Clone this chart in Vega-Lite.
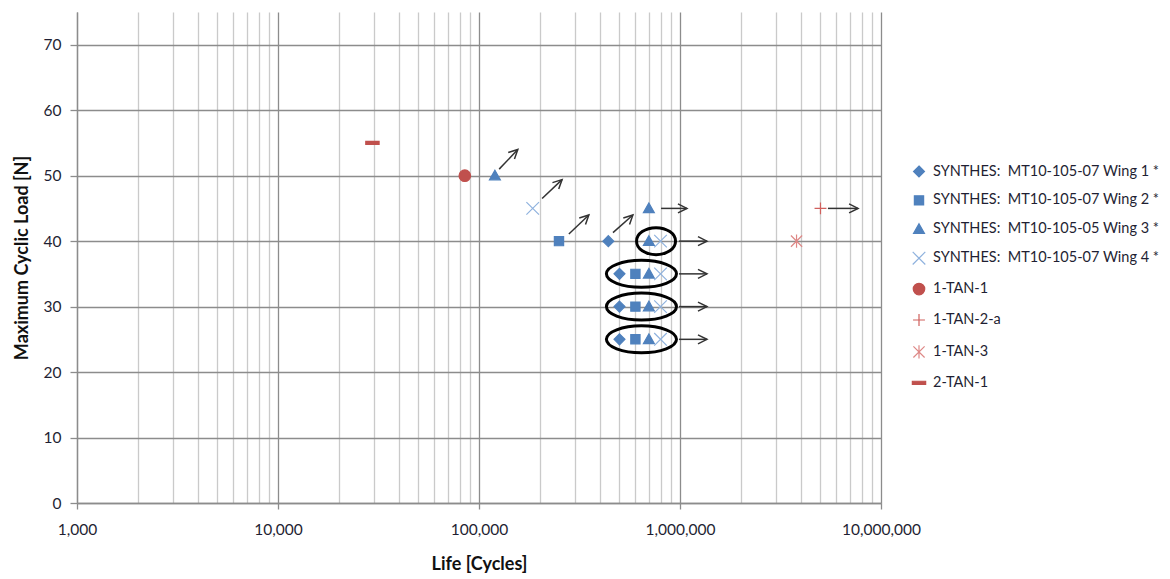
{
  "$schema": "https://vega.github.io/schema/vega-lite/v6.json",
  "width": 804,
  "height": 491,
  "autosize": {"type": "none"},
  "padding": {"left": 77, "top": 12, "right": 289, "bottom": 76},
  "background": "white",
  "config": {
    "view": {"stroke": null},
    "font": "Lato",
    "axis": {"labelFont": "Lato", "titleFont": "Lato", "labelColor": "#1f1f33", "titleColor": "#111111"},
    "legend": {"labelFont": "Lato"}
  },
  "datasets": {
    "pts": [
      {"series": "SYNTHES:  MT10-105-07 Wing 1", "life": 440000, "load": 40},
      {"series": "SYNTHES:  MT10-105-07 Wing 1", "life": 500000, "load": 35},
      {"series": "SYNTHES:  MT10-105-07 Wing 1", "life": 500000, "load": 30},
      {"series": "SYNTHES:  MT10-105-07 Wing 1", "life": 500000, "load": 25},
      {"series": "SYNTHES:  MT10-105-07 Wing 2", "life": 250000, "load": 40},
      {"series": "SYNTHES:  MT10-105-07 Wing 2", "life": 600000, "load": 35},
      {"series": "SYNTHES:  MT10-105-07 Wing 2", "life": 600000, "load": 30},
      {"series": "SYNTHES:  MT10-105-07 Wing 2", "life": 600000, "load": 25},
      {"series": "SYNTHES:  MT10-105-05 Wing 3", "life": 120000, "load": 50},
      {"series": "SYNTHES:  MT10-105-05 Wing 3", "life": 700000, "load": 45},
      {"series": "SYNTHES:  MT10-105-05 Wing 3", "life": 700000, "load": 40},
      {"series": "SYNTHES:  MT10-105-05 Wing 3", "life": 700000, "load": 35},
      {"series": "SYNTHES:  MT10-105-05 Wing 3", "life": 700000, "load": 30},
      {"series": "SYNTHES:  MT10-105-05 Wing 3", "life": 700000, "load": 25},
      {"series": "SYNTHES:  MT10-105-07 Wing 4", "life": 185000, "load": 45},
      {"series": "SYNTHES:  MT10-105-07 Wing 4", "life": 800000, "load": 40},
      {"series": "SYNTHES:  MT10-105-07 Wing 4", "life": 800000, "load": 35},
      {"series": "SYNTHES:  MT10-105-07 Wing 4", "life": 800000, "load": 30},
      {"series": "SYNTHES:  MT10-105-07 Wing 4", "life": 800000, "load": 25},
      {"series": "1-TAN-1", "life": 85000, "load": 50},
      {"series": "1-TAN-2-a", "life": 5000000, "load": 45},
      {"series": "1-TAN-3", "life": 3800000, "load": 40},
      {"series": "2-TAN-1", "life": 29500, "load": 55}
    ],
    "arrows": [
      {"dir": "diag", "life": 126000, "load": 51.0, "life2": 156000, "load2": 54.0},
      {"dir": "diag", "life": 206000, "load": 46.5, "life2": 259000, "load2": 49.4},
      {"dir": "diag", "life": 280000, "load": 41.1, "life2": 352000, "load2": 44.0},
      {"dir": "diag", "life": 464000, "load": 41.3, "life2": 583000, "load2": 44.0},
      {"dir": "right", "life": 805000, "load": 45, "life2": 1083000, "load2": 45},
      {"dir": "right", "life": 988000, "load": 40, "life2": 1362000, "load2": 40},
      {"dir": "right", "life": 988000, "load": 35, "life2": 1362000, "load2": 35},
      {"dir": "right", "life": 988000, "load": 30, "life2": 1362000, "load2": 30},
      {"dir": "right", "life": 988000, "load": 25, "life2": 1362000, "load2": 25},
      {"dir": "right", "life": 5445000, "load": 45, "life2": 7690000, "load2": 45}
    ],
    "ovals": [
      {"kind": "narrow", "life": 760000, "load": 40},
      {"kind": "wide", "life": 643000, "load": 35},
      {"kind": "wide", "life": 643000, "load": 30},
      {"kind": "wide", "life": 643000, "load": 25}
    ]
  },
  "layer": [
    {
      "data": {"name": "pts"},
      "mark": {"type": "point", "filled": true, "size": 196, "strokeWidth": 1.2, "opacity": 1},
      "encoding": {
        "x": {
          "field": "life", "type": "quantitative", "title": "Life [Cycles]",
          "scale": {"type": "log", "domain": [1000, 10000000], "nice": false},
          "axis": {
            "values": [1000,2000,3000,4000,5000,6000,7000,8000,9000,10000,20000,30000,40000,50000,60000,70000,80000,90000,100000,200000,300000,400000,500000,600000,700000,800000,900000,1000000,2000000,3000000,4000000,5000000,6000000,7000000,8000000,9000000,10000000],
            "labelExpr": "indexof([1000,10000,100000,1000000,10000000], datum.value) >= 0 ? format(datum.value, ',') : ''",
            "grid": true,
            "gridColor": {"condition": {"test": "indexof([1000,10000,100000,1000000,10000000], datum.value) >= 0", "value": "#8c8c8c"}, "value": "#cacaca"},
            "gridWidth": 1.3,
            "tickColor": {"condition": {"test": "indexof([1000,10000,100000,1000000,10000000], datum.value) >= 0", "value": "#8c8c8c"}, "value": "transparent"},
            "tickSize": 6,
            "tickWidth": 1.3,
            "domainColor": "#8c8c8c",
            "domainWidth": 1.3,
            "labelFontSize": 15.5,
            "labelPadding": 13,
            "labelFlush": false,
            "labelOverlap": false,
            "titleFontSize": 18,
            "titleFontWeight": "bold",
            "titlePadding": 18
          }
        },
        "y": {
          "field": "load", "type": "quantitative", "title": "Maximum Cyclic Load [N]",
          "scale": {"domain": [0, 75], "nice": false},
          "axis": {
            "values": [0,10,20,30,40,50,60,70],
            "grid": true,
            "gridColor": "#8c8c8c",
            "gridWidth": 1.3,
            "tickColor": "#8c8c8c",
            "tickSize": 7,
            "tickWidth": 1.3,
            "domainColor": "#8c8c8c",
            "domainWidth": 1.3,
            "labelFontSize": 15.5,
            "labelPadding": 9,
            "titleFontSize": 18,
            "titleFontWeight": "bold",
            "titlePadding": 12
          }
        },
        "shape": {
          "field": "series", "type": "nominal",
          "scale": {
            "domain": ["SYNTHES:  MT10-105-07 Wing 1", "SYNTHES:  MT10-105-07 Wing 2", "SYNTHES:  MT10-105-05 Wing 3", "SYNTHES:  MT10-105-07 Wing 4", "1-TAN-1", "1-TAN-2-a", "1-TAN-3", "2-TAN-1"],
            "range": [
              "M0,-0.78 L0.78,0 L0,0.78 L-0.78,0 Z",
              "M-0.66,-0.66 L0.66,-0.66 L0.66,0.66 L-0.66,0.66 Z",
              "M0,-0.78 L0.78,0.6 L-0.78,0.6 Z",
              "M-0.9,-0.9 L0.9,0.9 M-0.9,0.9 L0.9,-0.9",
              "M-0.82,0 A0.82,0.82 0 1,0 0.82,0 A0.82,0.82 0 1,0 -0.82,0 Z",
              "M-0.85,0 L0.85,0 M0,-0.85 L0,0.85",
              "M-0.8,-0.8 L0.8,0.8 M-0.8,0.8 L0.8,-0.8 M0,-0.95 L0,0.95",
              "M-0.95,-0.22 L0.95,-0.22 L0.95,0.22 L-0.95,0.22 Z"
            ]
          },
          "legend": {
            "title": null, "orient": "none", "legendX": 834, "legendY": 151.5,
            "symbolSize": 196, "symbolStrokeWidth": 1.2, "labelFontSize": 14.5, "labelColor": "#1f1f33",
            "labelOffset": 6, "rowPadding": 12.9, "labelLimit": 300,
            "labelExpr": "indexof(datum.label, 'SYNTHES') == 0 ? replace(datum.label, ':  ', ':\u00a0 ') + ' *' : datum.label"
          }
        },
        "fill": {
          "field": "series", "type": "nominal",
          "scale": {
            "domain": ["SYNTHES:  MT10-105-07 Wing 1", "SYNTHES:  MT10-105-07 Wing 2", "SYNTHES:  MT10-105-05 Wing 3", "SYNTHES:  MT10-105-07 Wing 4", "1-TAN-1", "1-TAN-2-a", "1-TAN-3", "2-TAN-1"],
            "range": ["#4F81BD", "#4F81BD", "#4F81BD", "#8FB2DE", "#C0504D", "#D0605D", "#DE8886", "#C0504D"]
          },
          "legend": null
        },
        "stroke": {
          "field": "series", "type": "nominal",
          "scale": {
            "domain": ["SYNTHES:  MT10-105-07 Wing 1", "SYNTHES:  MT10-105-07 Wing 2", "SYNTHES:  MT10-105-05 Wing 3", "SYNTHES:  MT10-105-07 Wing 4", "1-TAN-1", "1-TAN-2-a", "1-TAN-3", "2-TAN-1"],
            "range": ["#4F81BD", "#4F81BD", "#4F81BD", "#8FB2DE", "#C0504D", "#D0605D", "#DE8886", "#C0504D"]
          },
          "legend": null
        }
      }
    },
    {
      "data": {"name": "arrows"},
      "mark": {"type": "rule", "color": "#333333", "strokeWidth": 1.5},
      "encoding": {
        "x": {"field": "life", "type": "quantitative", "title": "Life [Cycles]"},
        "y": {"field": "load", "type": "quantitative", "title": "Maximum Cyclic Load [N]"},
        "x2": {"field": "life2"},
        "y2": {"field": "load2"}
      }
    },
    {
      "data": {"name": "arrows"},
      "transform": [{"filter": "datum.dir == 'diag'"}],
      "mark": {"type": "point", "filled": false, "stroke": "#333333", "strokeWidth": 1.5, "opacity": 1, "size": 324, "angle": -44, "shape": "M-1,-0.5 L0,0 L-1,0.5"},
      "encoding": {
        "x": {"field": "life2", "type": "quantitative", "title": "Life [Cycles]"},
        "y": {"field": "load2", "type": "quantitative", "title": "Maximum Cyclic Load [N]"}
      }
    },
    {
      "data": {"name": "arrows"},
      "transform": [{"filter": "datum.dir == 'right'"}],
      "mark": {"type": "point", "filled": false, "stroke": "#333333", "strokeWidth": 1.5, "opacity": 1, "size": 324, "angle": 0, "shape": "M-1,-0.5 L0,0 L-1,0.5"},
      "encoding": {
        "x": {"field": "life2", "type": "quantitative", "title": "Life [Cycles]"},
        "y": {"field": "load2", "type": "quantitative", "title": "Maximum Cyclic Load [N]"}
      }
    },
    {
      "data": {"name": "ovals"},
      "transform": [{"filter": "datum.kind == 'wide'"}],
      "mark": {"type": "point", "filled": false, "stroke": "#000000", "strokeWidth": 3, "opacity": 1, "size": 5329, "shape": "M-0.96,0 A0.96,0.37 0 1,0 0.96,0 A0.96,0.37 0 1,0 -0.96,0 Z"},
      "encoding": {
        "x": {"field": "life", "type": "quantitative", "title": "Life [Cycles]"},
        "y": {"field": "load", "type": "quantitative", "title": "Maximum Cyclic Load [N]"}
      }
    },
    {
      "data": {"name": "ovals"},
      "transform": [{"filter": "datum.kind == 'narrow'"}],
      "mark": {"type": "point", "filled": false, "stroke": "#000000", "strokeWidth": 3, "opacity": 1, "size": 5329, "shape": "M-0.534,0 A0.534,0.37 0 1,0 0.534,0 A0.534,0.37 0 1,0 -0.534,0 Z"},
      "encoding": {
        "x": {"field": "life", "type": "quantitative", "title": "Life [Cycles]"},
        "y": {"field": "load", "type": "quantitative", "title": "Maximum Cyclic Load [N]"}
      }
    }
  ]
}
